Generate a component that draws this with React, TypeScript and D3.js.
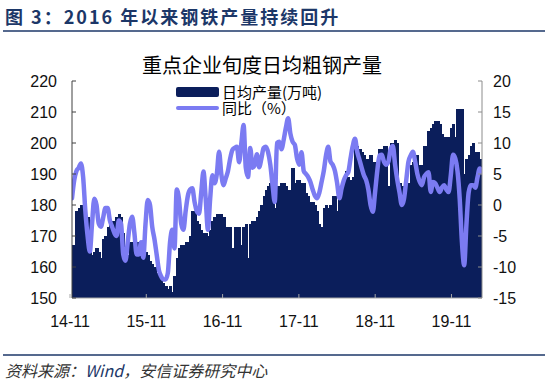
import React from "react";
import * as d3 from "d3";

// 日均产量(万吨) — dekad data from 14-11 onward
const output: number[] = [
  167,167,178,179,180,179,178,176,166,164,165,166,165,163,169,170,173,174,175,175,176,177,176,
  171,166,164,168,168,169,168,168,164,164,165,164,162,161,160,158,157,156,155,154,153,154,152,
  157,163,166,167,167,168,168,170,178,178,175,174,172,171,171,170,172,175,176,177,177,177,176,
  173,173,173,166,173,173,173,167,173,174,163,174,175,175,176,178,180,183,185,186,187,188,179,
  186,186,187,187,186,185,185,192,187,188,188,187,187,184,183,181,181,180,178,174,173,179,180,
  179,180,183,183,178,186,187,187,191,189,188,189,198,199,198,197,196,195,195,196,194,194,187,
  198,198,199,199,186,200,200,201,200,187,186,186,187,187,193,194,196,196,193,193,199,199,204,
  205,206,207,207,206,203,202,202,202,205,206,202,211,211,211,190,195,196,199,200,197,197,195,195,
];

// 同比(%)
const yoy: number[] = [
  1.1,4,5.5,6,6.7,4.5,-1,-5,-7.5,-3,1.0,0,-3,-3.5,-2,-0.5,-0.5,-2.5,-3.5,-4.5,-5,-2.5,-3,
  -8,-9,-6,-3,-1.9,-4.5,-8,-8,-6,-8.5,-3,0.8,0,-3.5,-5.5,-8,-10.5,-11.5,-12,-12,-11,-6,-4,-7,
  2.5,1,-3,-4,-1,1.5,2.5,2.7,0.5,-1,-1.4,2,5.4,1,-4,1,4.8,3.5,5,8.6,5,3.2,
  4.3,5.5,7.5,8.9,9.2,9.4,6.9,10,12.9,6,4.5,9.2,6,6.5,8.2,6.1,7.5,9.2,9.4,8.5,6.5,3.2,0.5,
  10,10.2,9,10.5,12.5,14,11.5,10.2,9.7,7.5,6.5,8.5,5.5,5,4.5,3.7,2.5,1.5,1.1,2,3.7,5.5,8,9.4,
  7,6.5,5.5,3.5,1.1,2.7,4,4.8,5.3,7.5,9.5,10.7,8.6,7.3,6,4.8,4,2.5,0,-1.1,2,5.5,
  8,8.1,7,6.5,7,9,9.5,6.5,4,2,0,1,4,7,8,8.6,7,5,3.8,3.2,4.5,5,5.3,
  2.1,3.7,3.5,2.8,2.1,2.8,3.2,2.5,2.1,4.8,8.1,7.5,5.5,1,-6,-9.7,-3.2,2,3.2,3.2,2.8,4.5,5.9,5.3,
];

const xTickLabels: string[] = ["14-11", "15-11", "16-11", "17-11", "18-11", "19-11"];
const axisSpanYears = 5.4; // time covered by the category axis, in years from 14-11
const leftTicks: number[] = [150, 160, 170, 180, 190, 200, 210, 220];
const rightTicks: number[] = [-15, -10, -5, 0, 5, 10, 15, 20];

const NAVY = "#0b1e5b";
const LINE = "#7b7bf2";
const HEAD = "#1c3768";
const NUM_FONT = "'Liberation Sans', Arial, sans-serif";
const CJK_FONT = "'Noto Sans CJK SC', 'Liberation Sans', sans-serif";

export default function App() {
  const W = 550, H = 385;
  const left = 72, right = 482, top = 81, bottom = 298;
  const N = output.length;
  const x = d3.scaleLinear().domain([0, N - 1]).range([left, right]);
  const xYear = d3.scaleLinear().domain([0, axisSpanYears]).range([left - 2, right]);
  const step = x(1) - x(0);
  const yL = d3.scaleLinear().domain([150, 220]).range([bottom, top]);
  const yR = d3.scaleLinear().domain([-15, 20]).range([bottom, top]);
  const line = d3
    .line<number>()
    .x((_, i) => x(i))
    .y((d) => yR(d))
    .curve(d3.curveMonotoneX);

  return (
    <svg
      width={W}
      height={H}
      style={{ position: "absolute", left: 0, top: 0, background: "#fff" }}
    >
      <defs>
        <clipPath id="plot">
          <rect x={left} y={top - 10} width={right - left} height={bottom - top + 10} />
        </clipPath>
      </defs>
      {/* header */}
      <text x={5} y={24} fontFamily={CJK_FONT} fontWeight={700} fontSize={18} fill={HEAD} letterSpacing={2}>
        图 3：2016 年以来钢铁产量持续回升
      </text>
      <line x1={3} x2={545} y1={31} y2={31} stroke={HEAD} strokeWidth={1.5} />

      {/* chart title */}
      <text x={262} y={73} textAnchor="middle" fontFamily={CJK_FONT} fontSize={20} fill="#000">
        重点企业旬度日均粗钢产量
      </text>

      {/* bars */}
      <g clipPath="url(#plot)">
        <g shapeRendering="crispEdges">
          {output.map((v, i) => (
            <rect
              key={i}
              x={x(i) - step / 2}
              y={yL(v)}
              width={step + 1}
              height={bottom - yL(v)}
              fill={NAVY}
            />
          ))}
        </g>
        <path d={line(yoy) || ""} fill="none" stroke={LINE} strokeWidth={4.5} strokeLinejoin="round" strokeLinecap="round" />
      </g>

      {/* axes */}
      <line x1={left} x2={right} y1={bottom} y2={bottom} stroke="#a6a6a6" strokeWidth={1} />
      <line x1={left} x2={left} y1={top} y2={bottom} stroke="#404040" strokeWidth={1} />
      <line x1={right} x2={right} y1={top} y2={bottom} stroke="#8c8c8c" strokeWidth={1} />
      {leftTicks.map((t) => (
        <g key={"l" + t}>
          <line x1={left} x2={left + 4} y1={yL(t)} y2={yL(t)} stroke="#404040" />
          <text x={left - 15} y={yL(t) + 6} textAnchor="end" fontFamily={NUM_FONT} fontSize={16} fill="#111">
            {t}
          </text>
        </g>
      ))}
      {rightTicks.map((t) => (
        <g key={"r" + t}>
          <line x1={right - 4} x2={right} y1={yR(t)} y2={yR(t)} stroke="#8c8c8c" />
          <text x={right + 11} y={yR(t) + 6} textAnchor="start" fontFamily={NUM_FONT} fontSize={16} fill="#111">
            {t}
          </text>
        </g>
      ))}
      {xTickLabels.map((lab, k) => {
        const xi = xYear(k);
        return (
          <g key={lab}>
            <line x1={xi} x2={xi} y1={bottom} y2={bottom - 4} stroke="#a6a6a6" />
            <text x={xi} y={bottom + 29} textAnchor="middle" fontFamily={NUM_FONT} fontSize={16} fill="#111">
              {lab}
            </text>
          </g>
        );
      })}

      {/* legend */}
      <rect x={176} y={87} width={43} height={10} rx={2} fill={NAVY} />
      <text x={222} y={98} fontFamily={CJK_FONT} fontSize={15} fill="#000">日均产量(万吨)</text>
      <line x1={178} x2={217} y1={108} y2={108} stroke={LINE} strokeWidth={4} strokeLinecap="round" />
      <text x={222} y={114} fontFamily={CJK_FONT} fontSize={15} fill="#000">同比（%）</text>

      {/* footer */}
      <line x1={3} x2={545} y1={355} y2={355} stroke={HEAD} strokeWidth={1.5} />
      <text x={5} y={377} fontFamily={CJK_FONT} fontSize={16} fontStyle="italic" fill="#333">
        资料来源：<tspan fill={HEAD}>Wind</tspan>，安信证券研究中心
      </text>
    </svg>
  );
}
